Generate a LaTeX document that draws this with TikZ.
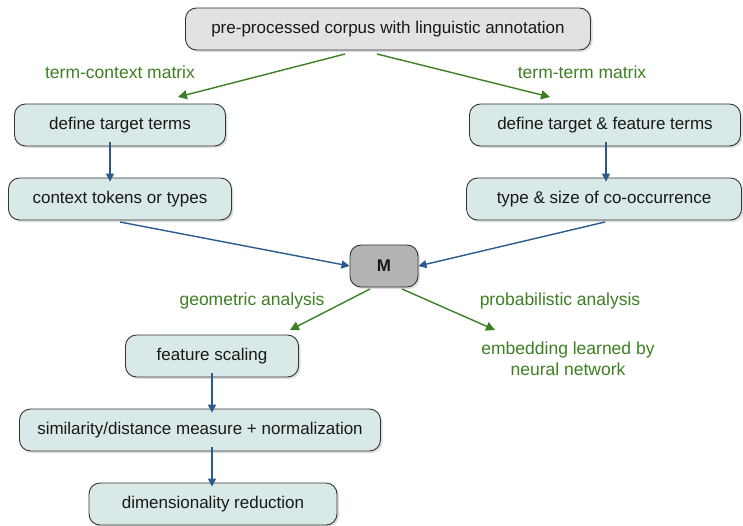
\documentclass[tikz,border=0pt]{standalone}
\usepackage{fontspec}
\setmainfont{Liberation Sans}
\usetikzlibrary{shadows,arrows.meta}
\definecolor{boxfill}{HTML}{D8E9E7}
\definecolor{topfill}{HTML}{E2E2E2}
\definecolor{mfill}{HTML}{B4B4B4}
\definecolor{grn}{HTML}{3D7F22}
\definecolor{blu}{HTML}{2B5A8E}
\tikzset{
  box/.style={draw=black!80, line width=0.9pt, rounded corners=11pt, fill=boxfill,
    minimum height=42pt, inner xsep=6pt, text=black!90, font=\fontsize{17}{19}\selectfont,
    drop shadow={shadow xshift=2pt, shadow yshift=-2pt, opacity=0.25}},
  glab/.style={text=grn, font=\fontsize{17.5}{21}\selectfont, align=center},
  garr/.style={draw=grn, line width=1.4pt, -{Triangle[length=9pt,width=9pt]}},
  barr/.style={draw=blu, line width=1.4pt, -{Triangle[length=8pt,width=8pt]}},
}
\begin{document}
\begin{tikzpicture}[x=1pt,y=-1pt]
\useasboundingbox (0,0) rectangle (743,525);
\node[box, fill=topfill, minimum width=405pt] (top) at (388,29) {pre-processed corpus with linguistic annotation};
\node[box, minimum width=211pt] (dtt) at (120,125) {define target terms};
\node[box, minimum width=223pt] (ctt) at (120,199) {context tokens or types};
\node[box, minimum width=271pt] (dtf) at (605,125) {define target \& feature terms};
\node[box, minimum width=275pt] (tsc) at (604,199) {type \& size of co-occurrence};
\node[box, fill=mfill, minimum width=68pt, font=\fontsize{17}{19}\selectfont\bfseries] (M) at (384,266) {M};
\node[box, minimum width=173pt] (fs) at (212,356) {feature scaling};
\node[box, minimum width=361pt] (sim) at (200,430) {similarity/distance measure + normalization};
\node[box, minimum width=248pt] (dr) at (213,504) {dimensionality reduction};

\node[glab] (l1) at (120,72) {term-context matrix};
\node[glab] (l2) at (582,72) {term-term matrix};
\node[glab] (l3) at (252,301) {geometric analysis};
\node[glab] (l4) at (560,301) {probabilistic analysis};
\node[glab] (emb) at (568,359) {embedding learned by\\neural network};

\coordinate (t1) at (345,54);
\coordinate (t2) at (377,54);
\coordinate (e1) at (178,97);
\coordinate (e2) at (550,97);
\coordinate (m1) at (370,289);
\coordinate (m2) at (402,289);
\coordinate (f1) at (290,330);
\coordinate (f2) at (495,330);
\coordinate (c1) at (120,222);
\coordinate (c2) at (605,222);
\draw[garr] (t1) -- (e1);
\draw[garr] (t2) -- (e2);
\draw[barr] ([yshift=4pt]dtt.south -| 110,0) -- ([yshift=-4pt]ctt.north -| 110,0);
\draw[barr] ([yshift=4pt]dtf.south -| 606,0) -- ([yshift=-4pt]tsc.north -| 606,0);
\draw[barr] (c1) -- (M.west);
\draw[barr] (c2) -- (M.east);
\draw[garr] (m1) -- (f1);
\draw[garr] (m2) -- (f2);
\draw[barr] ([yshift=4pt]fs.south) -- ([yshift=-4pt]sim.north -| fs.south);
\draw[barr] ([yshift=4pt]sim.south -| fs) -- ([yshift=-4pt]dr.north -| fs);
\end{tikzpicture}
\end{document}
